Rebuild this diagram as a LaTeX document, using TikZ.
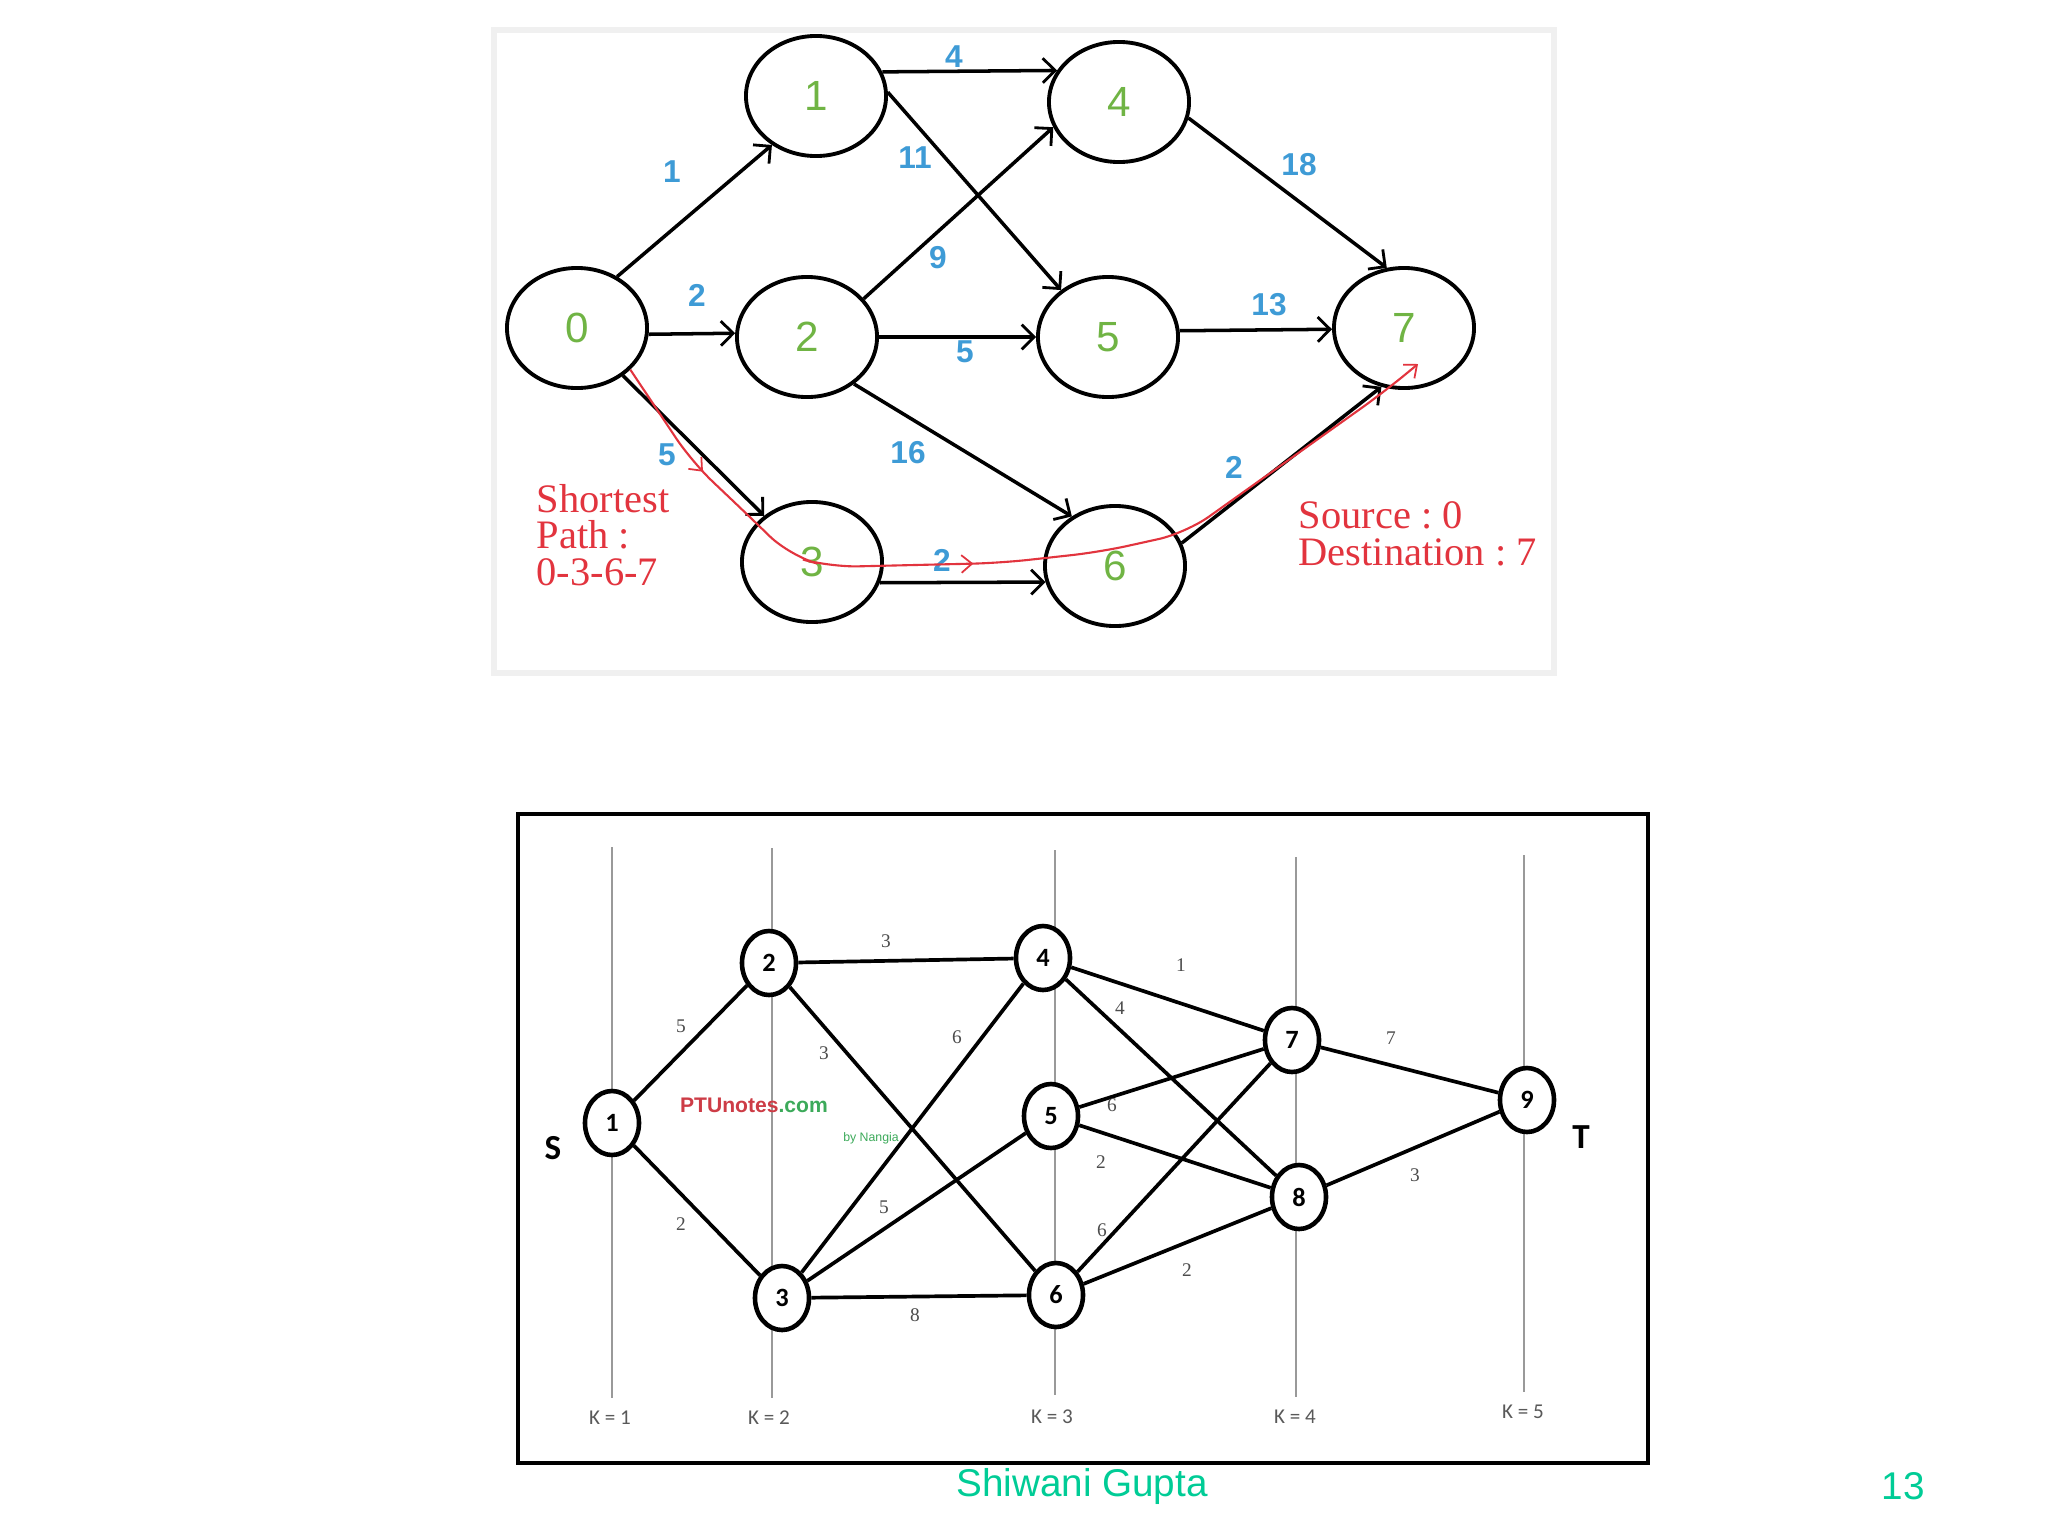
\documentclass[tikz,border=0pt]{standalone}
\usepackage{fontspec}
\setmainfont{Liberation Sans}
\newfontfamily\serifR{Liberation Serif}
\newfontfamily\cali{Carlito}
\usetikzlibrary{shapes.geometric,arrows.meta,decorations.markings}
\definecolor{nodegreen}{RGB}{112,180,68}
\definecolor{lblblue}{RGB}{62,155,214}
\definecolor{pathred}{RGB}{226,52,62}
\definecolor{footgreen}{RGB}{0,204,150}
\definecolor{wmred}{RGB}{205,60,70}
\definecolor{wmgreen}{RGB}{60,170,90}
\begin{document}
\begin{tikzpicture}[x=0.01cm,y=-0.01cm,
  tnode/.style={ellipse, draw, line width=1.1pt, minimum width=1.4cm, minimum height=1.2cm, inner sep=0pt, font=\fontsize{12}{14}\selectfont, text=nodegreen},
  tedge/.style={line width=1pt, -{Straight Barb[length=3.5pt,width=7pt,line width=0.8pt]}},
  tlbl/.style={font=\bfseries\fontsize{9}{10}\selectfont, text=lblblue, inner sep=0pt},
  redtxt/.style={font=\serifR\fontsize{11.5}{10.4}\selectfont, text=pathred, inner sep=0pt, align=left, anchor=west},
  bnode/.style={ellipse, draw, line width=1.3pt, fill=white, minimum width=0.54cm, minimum height=0.64cm, inner sep=0pt, font=\cali\bfseries\fontsize{7.5}{9}\selectfont},
  bedge/.style={line width=1.05pt},
  blbl/.style={font=\serifR\fontsize{5.5}{6}\selectfont, text=black!70, inner sep=0pt},
  kline/.style={draw=black!40, line width=0.45pt},
  klbl/.style={font=\cali\fontsize{6}{7}\selectfont, text=black!65, inner sep=0pt},
  stlbl/.style={font=\cali\bfseries\fontsize{10}{12}\selectfont, inner sep=0pt},
  redarr/.style={-{Straight Barb[length=3pt,width=5pt,line width=0.5pt]}}
]
\useasboundingbox (0,0) rectangle (2048,1536);
\fill[white] (0,0) rectangle (2048,1536);

% ---------- top panel ----------
\draw[draw=black!6, line width=1.5pt] (494,30) rectangle (1554,673);

\node[tnode] (n0) at (577,328) {0};
\node[tnode] (n1) at (816,96) {1};
\node[tnode] (n2) at (807,337) {2};
\node[tnode] (n3) at (812,562) {3};
\node[tnode] (n4) at (1119,102) {4};
\node[tnode] (n5) at (1108,337) {5};
\node[tnode] (n6) at (1115,566) {6};
\node[tnode] (n7) at (1404,328) {7};

\draw[tedge] (n0.52) -- (n1.228);
\draw[tedge] (n0.-5) -- (n2.177);
\draw[tedge] (n0.-46) -- (n3.136);
\draw[tedge] (n1.20) -- (n4.153);
\draw[tedge] (n1.3) -- (n5.135);
\draw[tedge] (n2.34) -- (n4.201);
\draw[tedge] (n2.east) -- (n5.west);
\draw[tedge] (n2.-45) -- (n6.131);
\draw[tedge] (n3.-17) -- (n6.193);
\draw[tedge] (n4.-13) -- (n7.106);
\draw[tedge] (n5.5) -- (n7.181);
\draw[tedge] (n6.19) -- (n7.249);

\node[tlbl] (l01) at (672,172) {1};
\node[tlbl] (l02) at (697,295) {2};
\node[tlbl] (l03) at (667,455) {5};
\node[tlbl] (l14) at (954,57) {4};
\node[tlbl] (l15) at (915,158) {11};
\node[tlbl] (l24) at (938,258) {9};
\node[tlbl] (l25) at (965,352) {5};
\node[tlbl] (l26) at (908,453) {16};
\node[tlbl] (l36) at (942,560) {2};
\node[tlbl] (l47) at (1299,165) {18};
\node[tlbl] (l57) at (1269,305) {13};
\node[tlbl] (l67) at (1234,467) {2};

% shortest path annotation
\draw[pathred, line width=0.6pt, rounded corners=8pt, redarr,
  postaction={decorate},
  decoration={markings,
    mark=at position 0.13 with {\arrow{Straight Barb[length=3pt,width=5pt,line width=0.5pt]}},
    mark=at position 0.48 with {\arrow{Straight Barb[length=3pt,width=5pt,line width=0.5pt]}}}]
  (n0.-38) -- (692,462) -- (751,518) -- (790,556) -- (830,567) -- (1000,563)
  -- (1100,552) -- (1186,533) -- (1384,392) -- (1418,364);

\node[redtxt] (sp) at (536,535) {Shortest\\Path~:\\0-3-6-7};
\node[redtxt] (sd) at (1298,534) {Source~:~0\\Destination~:~7};

% ---------- bottom panel ----------
\draw[line width=0.9pt] (518,814) rectangle (1648,1463);

\draw[kline] (612,847) -- (612,1398);
\draw[kline] (772,848) -- (772,1398);
\draw[kline] (1055,850) -- (1055,1395);
\draw[kline] (1296,857) -- (1296,1397);
\draw[kline] (1524,855) -- (1524,1392);

\node[klbl] (k1) at (610,1418) {K = 1};
\node[klbl] (k2) at (769,1418) {K = 2};
\node[klbl] (k3) at (1052,1417) {K = 3};
\node[klbl] (k4) at (1295,1417) {K = 4};
\node[klbl] (k5) at (1523,1412) {K = 5};

\node[bnode] (b1) at (612,1123) {1};
\node[bnode] (b2) at (769,963) {2};
\node[bnode] (b3) at (782,1298) {3};
\node[bnode] (b4) at (1043,958) {4};
\node[bnode] (b5) at (1051,1116) {5};
\node[bnode] (b6) at (1056,1295) {6};
\node[bnode] (b7) at (1292,1040) {7};
\node[bnode] (b8) at (1299,1197) {8};
\node[bnode] (b9) at (1527,1100) {9};

\draw[bedge] (b1) -- (b2);
\draw[bedge] (b1) -- (b3);
\draw[bedge] (b2) -- (b4);
\draw[bedge] (b2) -- (b6);
\draw[bedge] (b3) -- (b4);
\draw[bedge] (b3) -- (b5);
\draw[bedge] (b3) -- (b6);
\draw[bedge] (b4) -- (b7);
\draw[bedge] (b4) -- (b8);
\draw[bedge] (b5) -- (b7);
\draw[bedge] (b5) -- (b8);
\draw[bedge] (b6) -- (b7);
\draw[bedge] (b6) -- (b8);
\draw[bedge] (b7) -- (b9);
\draw[bedge] (b8) -- (b9);

\node[blbl] (e12) at (681,1026) {5};
\node[blbl] (e13) at (681,1224) {2};
\node[blbl] (e24) at (886,941) {3};
\node[blbl] (e26) at (824,1053) {3};
\node[blbl] (e34) at (957,1037) {6};
\node[blbl] (e35) at (884,1207) {5};
\node[blbl] (e36) at (915,1315) {8};
\node[blbl] (e47) at (1181,965) {1};
\node[blbl] (e48) at (1120,1008) {4};
\node[blbl] (e57) at (1112,1105) {6};
\node[blbl] (e58) at (1101,1162) {2};
\node[blbl] (e67) at (1102,1230) {6};
\node[blbl] (e68) at (1187,1270) {2};
\node[blbl] (e79) at (1391,1038) {7};
\node[blbl] (e89) at (1415,1175) {3};

\node[stlbl] (S) at (553,1148) {S};
\node[stlbl] (T) at (1581,1137) {T};

\node[font=\bfseries\fontsize{6}{7}\selectfont, inner sep=0pt] (wm) at (754,1105) {\textcolor{wmred}{PTUnotes}\textcolor{wmgreen}{.com}};
\node[font=\fontsize{3.5}{4}\selectfont, text=wmgreen, inner sep=0pt] (wm2) at (871,1138) {by Nangia};

% ---------- footer ----------
\node[font=\fontsize{11}{13}\selectfont, text=footgreen, inner sep=0pt] (auth) at (1082,1486) {Shiwani Gupta};
\node[font=\fontsize{11}{13}\selectfont, text=footgreen, inner sep=0pt] (pg) at (1903,1486) {13};
\end{tikzpicture}
\end{document}
